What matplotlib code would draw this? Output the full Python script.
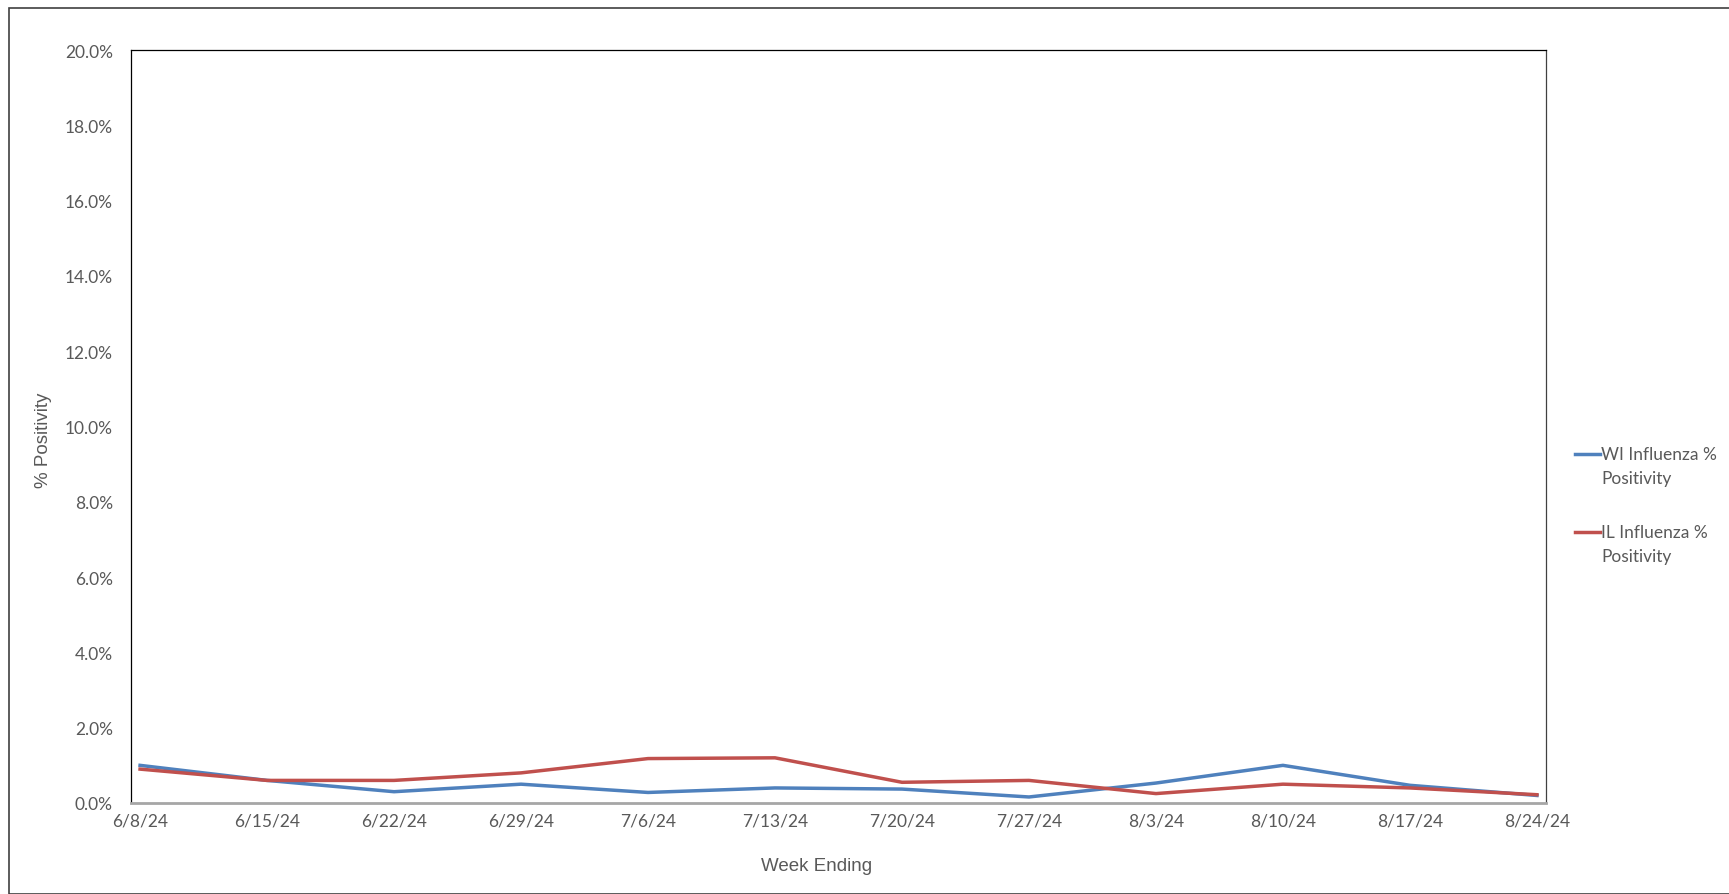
import numpy as np
import matplotlib.pyplot as plt
from matplotlib.lines import Line2D
from matplotlib.patches import Rectangle

# weeks (day offset from 6/8/24) and tick labels
days = [0, 7, 14, 21, 28, 35, 42, 49, 56, 63, 70, 77]
week_labels = ["6/8/24", "6/15/24", "6/22/24", "6/29/24", "7/6/24", "7/13/24",
               "7/20/24", "7/27/24", "8/3/24", "8/10/24", "8/17/24", "8/24/24"]

# % positivity
wi_flu = [1.0, 0.6, 0.3, 0.5, 0.28, 0.4, 0.37, 0.16, 0.53, 1.0, 0.47, 0.2]
il_flu = [0.9, 0.6, 0.6, 0.8, 1.18, 1.2, 0.55, 0.6, 0.25, 0.5, 0.4, 0.22]

series_names = [["WI Influenza %", "Positivity"], ["IL Influenza %", "Positivity"]]
colors = ["#4F81BD", "#C0504D"]

W, H = 1729, 895
fig = plt.figure(figsize=(W/100, H/100), dpi=100)
ax = fig.add_axes([131/W, 1 - 804/H, (1546-131)/W, (804-51)/H])

for vals, c in zip([wi_flu, il_flu], colors):
    ax.plot(days, vals, color=c, lw=2.5)

ax.set_xlim(-0.5, 77.5)
ax.set_ylim(0, 20)
yt = np.arange(0, 20.1, 2)
ax.set_yticks(yt)
ax.set_yticklabels([f"{v:.1f}%" for v in yt])
ax.set_xticks(days)
ax.set_xticklabels(week_labels)
ax.tick_params(length=0, labelsize=12.5, labelcolor="#595959")
ax.tick_params(axis="y", pad=13)
ax.tick_params(axis="x", pad=7)
for lab in ax.get_xticklabels() + ax.get_yticklabels():
    lab.set_fontfamily("Lato")

for s in ["left", "top"]:
    ax.spines[s].set_color("#000000")
    ax.spines[s].set_linewidth(0.9)
ax.spines["right"].set_color("#404040")
ax.spines["right"].set_linewidth(0.9)
ax.spines["bottom"].set_color("#A6A6A6")
ax.spines["bottom"].set_linewidth(2)

fig.text(817/W, 1 - 867/H, "Week Ending", ha="center", va="center",
         fontsize=13.5, color="#595959", family="Liberation Sans")
fig.text(43/W, 1 - 440/H, "% Positivity", ha="center", va="center",
         rotation=90, fontsize=13.5, color="#595959", family="Liberation Sans")

# legend, right side
for k, (name, c) in enumerate(zip(series_names, colors)):
    y0 = 455 + k * 78
    fig.add_artist(Line2D([1575/W, 1600/W], [1 - y0/H, 1 - y0/H], color=c, lw=2.5))
    for j, line in enumerate(name):
        fig.text(1601/W, 1 - (y0 + j * 24)/H, line, ha="left", va="center",
                 fontsize=12.5, color="#595959", family="Lato")

# outer chart border
fig.patches.append(Rectangle((9/W, 0), 1.0, 1 - 9/H, transform=fig.transFigure,
                             fill=False, edgecolor="#404040", lw=1.2))

fig.savefig("out.png", dpi=100)
